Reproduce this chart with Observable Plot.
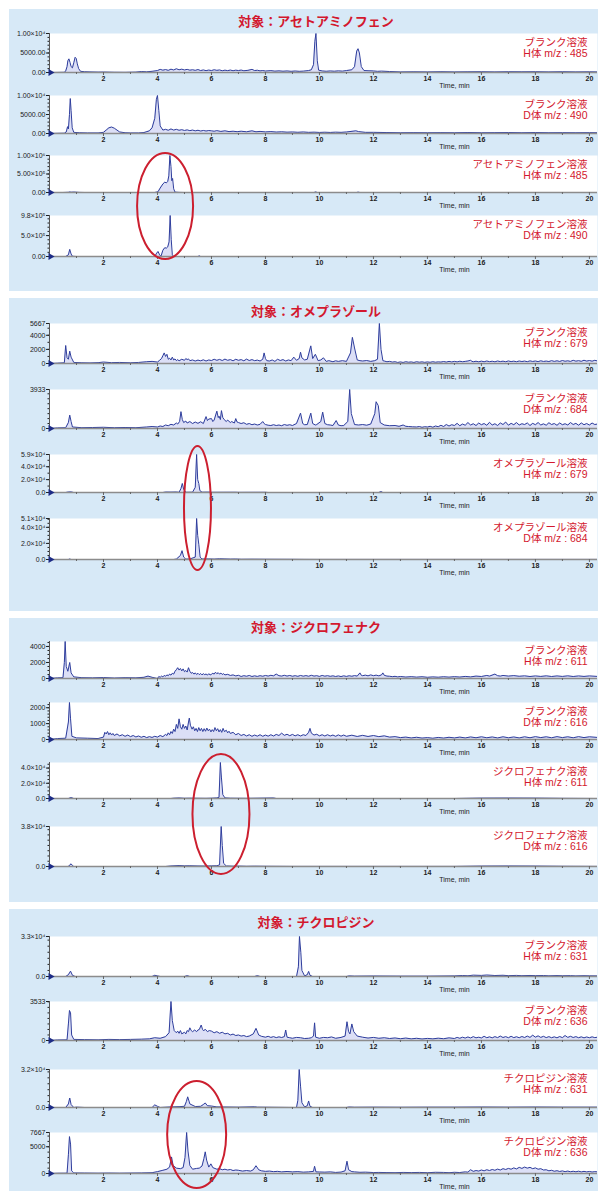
<!DOCTYPE html>
<html><head><meta charset="utf-8">
<script src="https://cdn.jsdelivr.net/npm/d3@7"></script>
<script src="https://cdn.jsdelivr.net/npm/@observablehq/plot@0.6"></script>
<style>
html,body{margin:0;padding:0;background:#fff;}
#page{position:relative;width:598px;height:1191px;overflow:hidden;font-family:"Liberation Sans","Noto Sans CJK JP",sans-serif;}
.panel{position:absolute;left:9px;width:589px;background:#d7e9f7;}
.title{position:absolute;width:300px;left:166px;text-align:center;font-family:"Noto Sans CJK JP",sans-serif;font-weight:bold;font-size:13px;color:#d3182e;line-height:14px;white-space:nowrap;}
.chart{position:absolute;left:0;}
#ov{position:absolute;left:0;top:0;pointer-events:none;}
</style></head><body><div id="page"></div>
<script>
// ---------- text ----------
const titles = ["対象：アセトアミノフェン","対象：オメプラゾール","対象：ジクロフェナク","対象：チクロピジン"];
const solutionNames = ["アセトアミノフェン溶液","オメプラゾール溶液","ジクロフェナク溶液","チクロピジン溶液"];
const blankName = "ブランク溶液";
const mzH = [485, 679, 611, 631];
const mzD = [490, 684, 616, 636];
const xMajorTicks = [2,4,6,8,10,12,14,16,18,20];
const xMinorTicks = [1,3,5,7,9,11,13,15,17,19];
const xLabel = "Time, min";
// retention time (min) marked by the red ellipse in each section
const circleTimes = [4.3, 5.5, 6.37, 5.47];

// ---------- y scales (full scale, ticks, tick labels) ----------
const yMax = [[1e4,1e4,1e6,9.8e5],[5667,3933,5.9e4,5.1e4],[4620,2330,4.73e4,3.8e4],[3.3e4,3533,3.2e4,7667]];
const yTicks = [
  [[0,5000,1e4],[0,5000,1e4],[0,5e5,1e6],[0,5e5,9.8e5]],
  [[0,2000,4000,5667],[0,3933],[0,2e4,4e4,5.9e4],[0,2e4,4e4,5.1e4]],
  [[0,2000,4000],[0,1000,2000],[0,2e4,4e4],[0,3.8e4]],
  [[0,3.3e4],[0,3533],[0,3.2e4],[0,5000,7667]]
];
const yTickLabels = [
  [["0.00","5000.00","1.00×10⁴"],["0.00","5000.00","1.00×10⁴"],["0.00","5.00×10⁵","1.00×10⁶"],["0.00","5.0×10⁵","9.8×10⁵"]],
  [["0","2000","4000","5667"],["0","3933"],["0.0","2.0×10⁴","4.0×10⁴","5.9×10⁴"],["0.0","2.0×10⁴","4.0×10⁴","5.1×10⁴"]],
  [["0","2000","4000"],["0","1000","2000"],["0.0","2.0×10⁴","4.0×10⁴"],["0.0","3.8×10⁴"]],
  [["0.0","3.3×10⁴"],["0","3533"],["0.0","3.2×10⁴"],["0","5000","7667"]]
];

// ---------- traces [time(min), intensity(cps)] ----------
const acetBlankH = [[0,0],[0.3,30],[0.55,50],[0.6,400],[0.65,1500],[0.68,3000],[0.72,3500],[0.76,2600],[0.8,1500],[0.85,1200],[0.9,2500],[0.95,3900],[0.99,3600],[1.03,2200],[1.08,1000],[1.15,300],[1.3,200],[1.5,150],[1.8,100],[2.0,120],[2.4,60],[2.8,40],[3.2,100],[3.4,250],[3.6,180],[3.8,300],[4.0,500],[4.1,800],[4.2,600],[4.3,750],[4.4,550],[4.5,850],[4.6,650],[4.7,950],[4.8,700],[4.9,850],[5.0,650],[5.1,800],[5.2,600],[5.3,700],[5.4,550],[5.5,750],[5.6,500],[5.7,650],[5.8,480],[5.9,620],[6.0,500],[6.1,700],[6.2,550],[6.3,650],[6.4,450],[6.5,600],[6.6,480],[6.7,620],[6.8,450],[6.9,600],[7.0,500],[7.1,620],[7.2,450],[7.35,550],[7.5,800],[7.6,500],[7.7,580],[7.8,420],[7.9,500],[8.0,380],[8.2,480],[8.35,350],[8.5,420],[8.65,330],[8.8,400],[8.95,300],[9.1,380],[9.25,300],[9.4,350],[9.6,500],[9.7,700],[9.78,2000],[9.83,8000],[9.87,10000],[9.92,3000],[9.97,600],[10.1,400],[10.25,320],[10.4,400],[10.55,330],[10.7,420],[10.85,350],[11.0,500],[11.2,700],[11.3,1500],[11.38,5500],[11.43,6100],[11.48,5000],[11.55,1500],[11.65,500],[11.8,450],[12.0,400],[12.15,300],[12.3,350],[12.6,250],[13.0,150],[13.5,180],[14.0,150],[14.5,200],[15.0,150],[15.5,180],[16.0,200],[16.5,150],[17.0,200],[17.5,180],[18.0,200],[18.5,150],[19.0,200],[19.5,150],[20.0,180],[20.3,150]];
const acetBlankD = [[0,0],[0.3,50],[0.55,80],[0.62,400],[0.67,1800],[0.7,1200],[0.74,5000],[0.77,9200],[0.8,6000],[0.84,1500],[0.9,300],[1.1,200],[1.4,150],[1.8,150],[2.0,300],[2.1,900],[2.2,1500],[2.3,1700],[2.4,1400],[2.5,900],[2.6,400],[2.8,200],[3.0,150],[3.3,150],[3.5,250],[3.7,700],[3.8,1500],[3.9,4000],[3.96,9000],[4.0,10000],[4.05,6000],[4.1,2000],[4.2,900],[4.3,1100],[4.4,850],[4.5,1200],[4.6,900],[4.7,1100],[4.8,850],[4.9,1000],[5.0,800],[5.1,950],[5.2,750],[5.3,900],[5.4,700],[5.5,850],[5.6,650],[5.7,800],[5.8,650],[5.9,780],[6.0,700],[6.1,600],[6.2,750],[6.35,550],[6.5,700],[6.65,500],[6.8,600],[6.95,480],[7.1,600],[7.3,450],[7.5,700],[7.65,450],[7.8,550],[8.0,420],[8.2,500],[8.4,380],[8.6,450],[8.8,350],[9.0,400],[9.2,320],[9.4,400],[9.6,300],[9.8,350],[10.0,280],[10.2,330],[10.4,280],[10.6,350],[10.8,300],[11.0,400],[11.35,700],[11.45,500],[11.7,300],[12.0,300],[12.5,250],[13,200],[13.5,220],[14,200],[14.5,220],[15,200],[15.5,250],[16,200],[16.5,220],[17,250],[17.5,200],[18,250],[18.5,200],[19,220],[19.5,200],[20,220],[20.3,200]];
const acetSolH = [[0,0],[0.5,0],[0.7,5000],[0.75,15000],[0.8,8000],[0.9,12000],[1.0,8000],[1.1,3000],[1.3,0],[3.9,0],[4.02,20000],[4.1,120000],[4.2,230000],[4.27,280000],[4.33,260000],[4.38,300000],[4.42,450000],[4.46,1000000],[4.5,700000],[4.53,320000],[4.56,380000],[4.6,100000],[4.65,10000],[4.8,3000],[5.0,0],[9.8,0],[9.86,15000],[9.92,0],[11.38,0],[11.43,10000],[11.5,0],[20.3,0]];
const acetSolD = [[0,0],[0.6,0],[0.7,40000],[0.75,170000],[0.8,60000],[0.85,5000],[1.0,0],[3.9,0],[3.97,80000],[4.02,120000],[4.08,40000],[4.13,5000],[4.2,150000],[4.27,210000],[4.33,200000],[4.38,230000],[4.43,350000],[4.47,980000],[4.51,400000],[4.55,40000],[4.6,0],[5.5,0],[5.55,15000],[5.6,0],[20.3,0]];

const omeBlankH = [[0,0],[0.3,50],[0.55,100],[0.6,2550],[0.65,800],[0.7,600],[0.75,1750],[0.8,900],[0.9,150],[1.2,100],[1.5,80],[1.8,120],[2.0,200],[2.3,120],[2.6,150],[3.0,100],[3.3,150],[3.6,250],[3.8,300],[4.0,200],[4.08,450],[4.15,700],[4.2,1100],[4.25,1500],[4.3,1000],[4.35,1300],[4.4,600],[4.45,750],[4.5,500],[4.55,900],[4.6,500],[4.65,650],[4.7,400],[4.75,550],[4.8,380],[4.9,600],[5.0,450],[5.05,700],[5.1,550],[5.15,650],[5.2,400],[5.3,500],[5.4,350],[5.5,480],[5.6,380],[5.7,520],[5.8,350],[5.9,500],[6.0,420],[6.1,600],[6.2,450],[6.3,580],[6.4,420],[6.5,620],[6.6,450],[6.7,550],[6.8,380],[6.9,600],[7.0,450],[7.1,550],[7.2,380],[7.3,620],[7.4,420],[7.5,550],[7.6,400],[7.7,480],[7.8,350],[7.9,600],[7.95,1500],[8.0,700],[8.05,400],[8.15,350],[8.25,500],[8.35,300],[8.45,600],[8.55,420],[8.65,550],[8.75,350],[8.85,500],[8.95,400],[9.05,900],[9.15,450],[9.25,700],[9.3,1600],[9.35,800],[9.45,500],[9.55,600],[9.68,2500],[9.75,700],[9.85,1300],[9.95,400],[10.05,500],[10.15,800],[10.25,300],[10.35,400],[10.5,250],[10.6,380],[10.7,300],[10.85,400],[11.0,300],[11.15,1500],[11.22,3700],[11.3,2200],[11.4,500],[11.5,400],[11.6,350],[11.75,420],[11.9,300],[12.05,400],[12.15,600],[12.22,5667],[12.28,2000],[12.35,400],[12.4,350],[12.5,250],[12.6,300],[12.7,200],[12.8,250],[12.9,150],[13.0,220],[13.1,150],[13.2,250],[13.3,180],[13.4,220],[13.5,150],[13.6,250],[13.7,180],[13.8,230],[13.9,160],[14.0,220],[14.1,170],[14.2,250],[14.3,180],[14.4,230],[14.5,200],[14.6,280],[14.7,200],[14.8,300],[14.9,220],[15.0,300],[15.1,230],[15.2,320],[15.3,250],[15.4,300],[15.5,350],[15.6,450],[15.65,300],[15.7,250],[15.8,320],[15.9,240],[16.0,330],[16.1,250],[16.2,350],[16.3,260],[16.4,320],[16.5,240],[16.6,350],[16.7,270],[16.8,330],[16.9,250],[17.0,360],[17.1,270],[17.2,330],[17.3,250],[17.4,350],[17.5,280],[17.6,340],[17.7,260],[17.8,370],[17.9,290],[18.0,350],[18.1,270],[18.2,380],[18.3,290],[18.4,340],[18.5,280],[18.6,400],[18.7,300],[18.8,380],[18.9,290],[19.0,420],[19.1,320],[19.2,380],[19.3,300],[19.4,450],[19.5,330],[19.6,400],[19.7,310],[19.8,460],[19.9,340],[20.0,420],[20.1,330],[20.2,450],[20.3,360]];
const omeBlankD = [[0,0],[0.3,60],[0.6,80],[0.7,600],[0.75,1350],[0.8,700],[0.85,150],[1.2,80],[1.6,100],[2.0,120],[2.4,80],[2.8,100],[3.2,80],[3.6,150],[3.8,200],[4.0,150],[4.1,250],[4.2,200],[4.3,350],[4.4,280],[4.5,420],[4.6,350],[4.7,550],[4.75,450],[4.82,700],[4.87,1700],[4.92,900],[4.97,600],[5.05,750],[5.1,550],[5.2,700],[5.3,500],[5.4,650],[5.5,520],[5.6,680],[5.7,500],[5.8,1200],[5.85,800],[5.9,950],[6.0,1000],[6.05,700],[6.1,850],[6.2,1750],[6.25,1100],[6.28,1250],[6.33,900],[6.37,1800],[6.42,1100],[6.47,900],[6.55,700],[6.6,850],[6.7,600],[6.75,700],[6.85,550],[6.9,1000],[6.95,650],[7.0,600],[7.1,500],[7.2,580],[7.3,420],[7.4,500],[7.5,380],[7.6,450],[7.7,350],[7.8,420],[7.9,700],[7.95,500],[8.0,400],[8.1,330],[8.2,300],[8.3,380],[8.4,300],[8.5,350],[8.6,280],[8.7,400],[8.8,320],[8.9,380],[9.0,300],[9.15,500],[9.3,1550],[9.38,500],[9.45,380],[9.55,400],[9.68,1550],[9.75,500],[9.85,350],[9.9,400],[10.05,700],[10.12,1650],[10.2,500],[10.3,380],[10.4,350],[10.5,300],[10.62,800],[10.7,350],[10.8,280],[10.9,300],[11.05,700],[11.12,3933],[11.18,1500],[11.3,400],[11.45,350],[11.6,400],[11.75,330],[11.9,450],[12.05,1500],[12.1,2700],[12.18,2300],[12.25,600],[12.4,350],[12.6,280],[12.8,300],[12.95,220],[13.1,350],[13.2,220],[13.3,200],[13.45,170],[13.6,150],[13.7,200],[13.8,120],[13.9,180],[14.0,150],[14.1,220],[14.2,130],[14.3,250],[14.4,180],[14.5,320],[14.6,200],[14.7,400],[14.8,250],[14.9,380],[15.0,300],[15.1,520],[15.2,280],[15.3,450],[15.4,330],[15.5,600],[15.6,350],[15.7,480],[15.8,300],[15.9,550],[16.0,380],[16.1,500],[16.2,320],[16.3,620],[16.4,350],[16.5,480],[16.6,300],[16.7,560],[16.8,400],[16.9,650],[17.0,330],[17.1,520],[17.2,380],[17.3,600],[17.4,350],[17.5,480],[17.6,400],[17.7,560],[17.8,300],[17.9,520],[18.0,380],[18.1,600],[18.2,350],[18.3,470],[18.4,330],[18.5,580],[18.6,400],[18.7,500],[18.8,320],[18.9,560],[19.0,380],[19.1,480],[19.2,350],[19.3,600],[19.4,400],[19.5,520],[19.6,330],[19.7,560],[19.8,380],[19.9,500],[20.0,350],[20.1,550],[20.2,400],[20.3,450]];
const omeSolH = [[0,0],[0.6,0],[0.7,800],[0.8,900],[0.9,0],[4.2,0],[4.3,700],[4.5,600],[4.7,800],[4.8,300],[4.87,6000],[4.92,14000],[4.97,5000],[5.05,400],[5.3,500],[5.4,8000],[5.45,59000],[5.49,20000],[5.53,14000],[5.57,3000],[5.65,500],[5.9,600],[6.0,300],[6.9,400],[7.0,200],[8.0,300],[8.1,0],[12.2,0],[12.28,1500],[12.35,0],[20.3,0]];
const omeSolD = [[0,0],[0.7,0],[0.75,600],[0.8,0],[4.6,0],[4.7,500],[4.85,5000],[4.91,11000],[4.97,3000],[5.05,500],[5.2,600],[5.4,3000],[5.45,51000],[5.49,30000],[5.53,19000],[5.58,3000],[5.65,600],[5.9,700],[6.1,500],[6.3,900],[6.5,700],[6.7,500],[6.9,600],[7.1,300],[7.5,400],[8.0,300],[8.5,250],[9.0,200],[9.5,150],[10,100],[20.3,100]];

const dicBlankH = [[0,0],[0.3,80],[0.5,100],[0.55,2000],[0.58,4620],[0.62,1500],[0.68,900],[0.75,2000],[0.8,700],[0.9,200],[1.2,100],[1.6,80],[2.0,120],[2.4,60],[2.8,100],[3.2,80],[3.5,150],[3.65,300],[3.8,150],[4.0,0],[4.05,250],[4.1,150],[4.15,300],[4.2,200],[4.25,380],[4.3,280],[4.35,450],[4.4,350],[4.45,550],[4.5,420],[4.55,650],[4.6,550],[4.65,900],[4.7,1100],[4.75,1350],[4.8,1050],[4.85,1250],[4.9,950],[4.95,1200],[5.0,850],[5.05,1000],[5.1,800],[5.15,1350],[5.2,900],[5.25,650],[5.3,750],[5.35,550],[5.4,700],[5.45,500],[5.5,650],[5.55,480],[5.6,620],[5.65,450],[5.7,600],[5.75,480],[5.8,560],[5.85,420],[5.9,600],[5.95,450],[6.0,520],[6.05,650],[6.1,550],[6.15,780],[6.2,600],[6.25,720],[6.3,550],[6.35,680],[6.4,500],[6.45,600],[6.5,450],[6.6,520],[6.7,380],[6.8,450],[6.9,320],[7.0,400],[7.1,250],[7.2,350],[7.3,280],[7.4,380],[7.5,250],[7.6,330],[7.7,260],[7.8,350],[7.9,280],[8.0,380],[8.1,300],[8.2,400],[8.3,330],[8.4,550],[8.5,350],[8.6,300],[8.7,400],[8.8,300],[8.9,380],[9.0,280],[9.1,350],[9.2,270],[9.3,380],[9.4,290],[9.5,360],[9.6,280],[9.7,400],[9.8,300],[9.9,350],[10.0,260],[10.1,380],[10.2,290],[10.3,350],[10.4,270],[10.5,330],[10.6,250],[10.7,320],[10.8,240],[10.9,330],[11.0,260],[11.1,340],[11.2,280],[11.3,360],[11.4,300],[11.5,700],[11.55,400],[11.6,350],[11.7,420],[11.8,330],[11.9,450],[12.0,350],[12.1,420],[12.2,330],[12.3,450],[12.35,700],[12.4,400],[12.5,300],[12.6,280],[12.7,230],[12.8,270],[12.9,200],[13.0,250],[13.2,180],[13.4,230],[13.6,170],[13.8,220],[14.0,150],[14.2,200],[14.4,160],[14.6,220],[14.8,170],[15.0,230],[15.2,180],[15.4,260],[15.6,200],[15.8,300],[16.0,250],[16.2,380],[16.3,300],[16.5,550],[16.6,350],[16.7,300],[16.8,380],[17.0,300],[17.2,360],[17.4,280],[17.6,330],[17.8,250],[18.0,320],[18.2,260],[18.4,330],[18.6,250],[18.8,320],[19.0,260],[19.2,330],[19.4,250],[19.6,320],[19.8,260],[20.0,320],[20.3,260]];
const dicBlankD = [[0,0],[0.3,60],[0.6,80],[0.7,1100],[0.74,2330],[0.78,1300],[0.83,200],[1.0,100],[1.4,80],[1.8,60],[2.0,150],[2.05,450],[2.1,350],[2.15,500],[2.2,300],[2.25,420],[2.3,280],[2.35,380],[2.4,250],[2.5,350],[2.6,230],[2.7,300],[2.8,200],[2.9,280],[3.0,180],[3.1,250],[3.2,160],[3.3,220],[3.4,140],[3.5,200],[3.6,120],[3.7,180],[3.8,130],[3.9,200],[4.0,150],[4.1,250],[4.2,180],[4.3,320],[4.35,250],[4.4,420],[4.45,300],[4.5,500],[4.55,380],[4.6,650],[4.65,500],[4.7,950],[4.75,700],[4.8,1300],[4.85,800],[4.9,650],[4.95,950],[5.0,700],[5.05,850],[5.1,600],[5.15,1100],[5.18,1350],[5.22,900],[5.28,650],[5.33,800],[5.38,550],[5.43,700],[5.48,500],[5.53,750],[5.58,550],[5.63,700],[5.68,500],[5.73,680],[5.78,520],[5.83,720],[5.88,550],[5.93,650],[5.98,480],[6.03,620],[6.08,500],[6.13,750],[6.18,550],[6.23,680],[6.28,480],[6.33,620],[6.38,450],[6.43,700],[6.48,500],[6.55,580],[6.6,420],[6.65,520],[6.7,380],[6.8,450],[6.9,300],[7.0,380],[7.1,250],[7.2,320],[7.3,220],[7.4,300],[7.5,200],[7.6,280],[7.7,210],[7.8,300],[7.9,200],[8.0,280],[8.1,210],[8.2,300],[8.3,220],[8.4,320],[8.5,250],[8.6,400],[8.7,260],[8.8,330],[8.9,240],[9.0,320],[9.1,230],[9.2,300],[9.3,220],[9.4,300],[9.5,250],[9.6,450],[9.65,700],[9.7,400],[9.8,280],[9.9,330],[10.0,230],[10.1,300],[10.2,220],[10.3,300],[10.4,220],[10.5,280],[10.6,200],[10.7,290],[10.8,210],[10.9,280],[11.0,200],[11.2,270],[11.4,190],[11.6,260],[11.8,190],[12.0,250],[12.2,180],[12.4,230],[12.6,150],[12.8,180],[13.0,120],[13.2,150],[13.4,100],[13.6,140],[13.8,90],[14.0,120],[14.2,80],[14.4,130],[14.6,90],[14.8,140],[15.0,100],[15.2,150],[15.4,100],[15.6,160],[15.8,110],[16.0,170],[16.2,110],[16.4,160],[16.6,100],[16.8,170],[17.0,110],[17.2,160],[17.4,100],[17.6,170],[17.8,110],[18.0,180],[18.2,120],[18.4,170],[18.6,110],[18.8,180],[19.0,120],[19.2,170],[19.4,110],[19.6,180],[19.8,120],[20.0,170],[20.3,130]];
const dicSolH = [[0,0],[0.7,0],[0.8,1200],[0.9,0],[4.5,0],[4.6,400],[4.8,700],[5.0,300],[5.2,400],[5.5,300],[5.8,200],[6.0,400],[6.2,800],[6.28,1500],[6.33,47300],[6.37,27000],[6.42,5000],[6.5,800],[6.7,400],[7.0,300],[7.3,200],[8.3,700],[8.4,0],[15.0,0],[16.0,500],[17.0,600],[18.0,500],[19.0,200],[20.3,0]];
const dicSolD = [[0,0],[0.7,0],[0.75,1500],[0.8,2500],[0.85,1000],[0.9,0],[4.3,0],[4.5,500],[4.8,900],[5.0,600],[5.2,700],[5.5,500],[5.8,400],[6.0,600],[6.2,700],[6.3,1500],[6.36,38000],[6.4,20000],[6.45,3000],[6.55,500],[6.8,300],[7.0,400],[7.3,200],[7.6,300],[8.0,200],[9.0,100],[15.0,100],[16.0,400],[17.0,500],[18.0,400],[19.0,200],[20.3,100]];

const ticBlankH = [[0,0],[0.6,0],[0.7,1500],[0.78,4400],[0.85,1000],[0.95,0],[3.8,0],[3.9,1000],[4.0,500],[4.1,0],[5.0,0],[5.1,700],[5.2,0],[7.6,0],[7.7,700],[7.8,0],[9.15,0],[9.22,8000],[9.26,33000],[9.31,20000],[9.35,5000],[9.45,500],[9.55,1500],[9.6,4200],[9.65,1000],[9.75,0],[11.0,0],[11.1,500],[11.3,300],[12.0,400],[13.0,300],[14.0,300],[15.0,500],[15.3,800],[15.5,600],[15.7,1100],[16.0,900],[16.2,1200],[16.5,800],[16.8,1000],[17.0,700],[17.3,900],[17.5,650],[17.8,850],[18.0,700],[18.3,800],[18.5,550],[18.8,750],[19.0,600],[19.3,700],[19.5,500],[19.8,650],[20.0,550],[20.3,500]];
const ticBlankD = [[0,0],[0.3,50],[0.65,60],[0.7,1500],[0.74,2720],[0.78,2500],[0.82,500],[0.9,100],[1.3,80],[1.8,60],[2.2,100],[2.6,80],[3.0,100],[3.4,120],[3.7,150],[3.9,250],[4.1,200],[4.3,350],[4.43,700],[4.5,3533],[4.55,1800],[4.62,900],[4.7,700],[4.75,850],[4.8,650],[4.85,900],[4.9,600],[5.0,750],[5.05,600],[5.1,900],[5.15,800],[5.2,1150],[5.25,900],[5.3,800],[5.38,950],[5.45,800],[5.5,950],[5.55,1000],[5.62,1400],[5.67,1000],[5.7,900],[5.78,1000],[5.85,800],[5.92,900],[6.0,850],[6.1,700],[6.2,800],[6.3,650],[6.4,750],[6.5,600],[6.6,650],[6.7,500],[6.8,580],[6.9,450],[7.0,500],[7.1,400],[7.2,450],[7.3,350],[7.4,400],[7.55,600],[7.65,1100],[7.75,500],[7.85,380],[8.0,300],[8.1,380],[8.2,280],[8.3,350],[8.4,260],[8.5,330],[8.6,270],[8.7,350],[8.75,950],[8.8,300],[8.9,250],[9.0,200],[9.15,280],[9.3,250],[9.45,180],[9.6,200],[9.7,250],[9.78,400],[9.82,1600],[9.86,300],[10.0,200],[10.15,280],[10.3,250],[10.45,320],[10.6,200],[10.8,280],[10.95,400],[11.02,1700],[11.08,800],[11.13,600],[11.2,1500],[11.27,800],[11.4,400],[11.6,300],[11.8,220],[12.0,280],[12.2,200],[12.4,250],[12.6,180],[12.8,230],[13.0,160],[13.2,220],[13.4,150],[13.6,200],[13.8,140],[14.0,190],[14.2,150],[14.4,210],[14.6,160],[14.8,240],[15.0,180],[15.1,280],[15.2,200],[15.3,300],[15.4,220],[15.5,320],[15.6,230],[15.7,350],[15.8,240],[15.9,300],[16.0,230],[16.1,380],[16.2,250],[16.3,330],[16.4,240],[16.5,350],[16.6,260],[16.7,400],[16.8,270],[16.9,350],[17.0,250],[17.1,380],[17.2,260],[17.3,340],[17.4,250],[17.5,360],[17.6,270],[17.7,400],[17.8,280],[17.9,480],[18.0,300],[18.1,420],[18.2,280],[18.3,380],[18.4,260],[18.5,350],[18.6,250],[18.7,330],[18.8,240],[18.9,360],[19.0,260],[19.1,450],[19.2,280],[19.3,380],[19.4,270],[19.5,350],[19.6,250],[19.7,330],[19.8,240],[19.9,320],[20.0,250],[20.1,330],[20.2,260],[20.3,300]];
const ticSolH = [[0,0],[0.6,0],[0.7,3000],[0.75,8000],[0.8,2500],[0.9,0],[1.0,300],[1.3,0],[3.8,0],[3.9,2200],[4.0,1000],[4.1,0],[4.5,500],[4.8,700],[5.0,1000],[5.07,5000],[5.12,9000],[5.2,3000],[5.4,800],[5.6,1000],[5.7,2500],[5.77,3800],[5.85,1500],[6.0,1200],[6.2,500],[7.0,300],[7.6,600],[7.7,300],[9.15,0],[9.2,6000],[9.25,32000],[9.3,18000],[9.35,4000],[9.45,500],[9.55,1500],[9.6,5500],[9.65,1000],[9.75,0],[11.0,0],[11.1,400],[11.3,200],[12.0,300],[13.0,200],[14.0,300],[15.0,300],[16.0,400],[17.0,300],[18.0,400],[19.0,300],[20.3,300]];
const ticSolD = [[0,0],[0.3,50],[0.65,60],[0.7,3500],[0.74,6900],[0.78,5500],[0.82,500],[0.9,100],[1.3,80],[1.8,60],[2.2,80],[2.6,60],[3.0,80],[3.4,100],[3.8,150],[4.0,350],[4.2,600],[4.35,800],[4.45,1200],[4.52,3100],[4.58,1500],[4.7,1000],[4.85,900],[4.95,1100],[5.02,3000],[5.08,7667],[5.13,4200],[5.2,1500],[5.3,800],[5.45,950],[5.55,1000],[5.65,1400],[5.72,2800],[5.77,4050],[5.82,2500],[5.9,1200],[5.98,1800],[6.05,1100],[6.2,800],[6.3,900],[6.4,700],[6.5,800],[6.6,650],[6.7,750],[6.8,550],[6.9,650],[7.0,600],[7.15,450],[7.3,550],[7.45,450],[7.55,700],[7.65,1450],[7.75,700],[7.85,500],[8.0,400],[8.15,450],[8.3,350],[8.45,400],[8.6,300],[8.8,380],[9.0,300],[9.2,350],[9.4,250],[9.6,300],[9.78,400],[9.82,1350],[9.87,300],[10.0,280],[10.2,250],[10.4,300],[10.6,200],[10.8,260],[10.95,500],[11.02,2300],[11.08,700],[11.2,350],[11.3,300],[11.5,220],[11.7,250],[12.0,180],[12.2,200],[12.5,170],[12.8,150],[13.1,200],[13.4,170],[13.7,200],[14.0,150],[14.3,220],[14.6,200],[14.8,150],[15.0,220],[15.2,180],[15.4,300],[15.5,250],[15.6,700],[15.7,400],[15.8,550],[15.9,450],[16.0,650],[16.1,500],[16.2,700],[16.3,550],[16.4,750],[16.5,600],[16.6,820],[16.7,650],[16.8,900],[16.9,750],[17.0,950],[17.1,800],[17.2,1050],[17.3,850],[17.4,1150],[17.5,950],[17.6,1200],[17.7,1000],[17.8,1150],[17.9,900],[18.0,1050],[18.1,800],[18.2,900],[18.3,650],[18.4,700],[18.5,500],[18.6,600],[18.7,420],[18.8,520],[18.9,380],[19.0,480],[19.1,350],[19.2,450],[19.3,330],[19.4,420],[19.5,320],[19.6,430],[19.7,300],[19.8,400],[19.9,300],[20.0,380],[20.1,280],[20.2,350],[20.3,300]];

const traces = [
  [acetBlankH, acetBlankD, acetSolH, acetSolD],
  [omeBlankH, omeBlankD, omeSolH, omeSolD],
  [dicBlankH, dicBlankD, dicSolH, dicSolD],
  [ticBlankH, ticBlankD, ticSolH, ticSolD]
];

// ---------- layout (page pixels) ----------
const layout = {
  panels: [[9,291],[298,611],[618,902],[909,1191]],
  titleY: [20.5,310.5,627,922],
  plotTop: [[33,95,155,215],[323,389,454,518],[641,702,762,826],[936,1001,1069,1132]],
  plotBottom: [[72,133,192,256],[363,428,492,559],[678,739,798,866],[976,1040,1107,1173]],
  ellipseY: [[153,259],[446,570],[754,874],[1081,1188]],
  ellipseRx: [28,13.5,28.5,29.5]
};

const page = document.getElementById("page");
const MT = 4, MB = 26;
const red = "#d3182e";
const ellipses = [];

for (let s = 0; s < 4; s++) {
  const panel = document.createElement("div");
  panel.className = "panel";
  panel.style.top = layout.panels[s][0] + "px";
  panel.style.height = (layout.panels[s][1] - layout.panels[s][0]) + "px";
  page.appendChild(panel);

  const title = document.createElement("div");
  title.className = "title";
  title.textContent = titles[s];
  title.style.top = (layout.titleY[s] - 7) + "px";
  page.appendChild(title);

  for (let p = 0; p < 4; p++) {
    const data = traces[s][p].map(([t, v]) => ({t, v}));
    const h = layout.plotBottom[s][p] - layout.plotTop[s][p];
    const fmt = new Map(yTicks[s][p].map((d, i) => [d, yTickLabels[s][p][i]]));
    const isH = p % 2 === 0;
    const label = (p < 2 ? blankName : solutionNames[s]) + "\n" +
      (isH ? "H" : "D") + "体 m/z : " + (isH ? mzH[s] : mzD[s]);
    const chart = Plot.plot({
      width: 598, height: h + MT + MB,
      marginTop: MT, marginBottom: MB, marginLeft: 49, marginRight: 1,
      style: {background: "transparent", overflow: "visible", fontFamily: "Liberation Sans, Noto Sans CJK JP, sans-serif", fontSize: "7px", color: "#222"},
      x: {domain: [0, 20.3], axis: null},
      y: {domain: [0, yMax[s][p]], axis: null},
      marks: [
        Plot.frame({fill: "white"}),
        Plot.areaY(data, {x: "t", y: "v", fill: "#cdd2f2", fillOpacity: 0.7, clip: true}),
        Plot.lineY(data, {x: "t", y: "v", stroke: "#2e3d9c", strokeWidth: 1, clip: true}),
        Plot.ruleY([0], {stroke: "#8c8c8c", strokeWidth: 1.5}),
        Plot.ruleX([0], {stroke: "#555", strokeWidth: 1}),
        Plot.axisX({ticks: xMajorTicks, tickSize: 3, tickPadding: 1, tickFormat: d => String(d), fontWeight: "bold", label: null, stroke: "#666"}),
        Plot.axisX({ticks: xMinorTicks, tickSize: 2, tickFormat: () => "", label: null, stroke: "#666"}),
        Plot.axisY({ticks: yTicks[s][p], tickSize: 3, tickPadding: 1, tickFormat: d => fmt.get(d), label: null}),
        Plot.axisY({ticks: 8, tickSize: 1.5, tickFormat: () => "", label: null}),
        Plot.text([xLabel], {frameAnchor: "bottom", dx: 131, dy: 15, fontSize: 7, textAnchor: "middle"}),
        Plot.text([label], {frameAnchor: "top-right", textAnchor: "end", lineAnchor: "top", dx: -10, dy: 5, lineHeight: 1.05, fontSize: 10.5, fill: red}),
        Plot.dot([0], {frameAnchor: "bottom-left", symbol: "triangle", rotate: 90, r: 2.6, fill: "#1d2c86", stroke: null, dx: 1})
      ]
    });
    chart.classList.add("chart");
    chart.style.position = "absolute";
    chart.style.left = "0px";
    chart.style.top = (layout.plotTop[s][p] - MT) + "px";
    page.appendChild(chart);
    if (p === 2) {
      const x = chart.scale("x");
      ellipses.push({cx: x.apply(circleTimes[s]), y0: layout.ellipseY[s][0], y1: layout.ellipseY[s][1], rx: layout.ellipseRx[s]});
    }
  }
}

const ov = d3.select(page).append("svg").attr("id", "ov").attr("width", 598).attr("height", 1191);
ov.selectAll("ellipse").data(ellipses).join("ellipse")
  .attr("cx", d => d.cx).attr("cy", d => (d.y0 + d.y1) / 2)
  .attr("rx", d => d.rx).attr("ry", d => (d.y1 - d.y0) / 2)
  .attr("fill", "none").attr("stroke", "#cc1f2f").attr("stroke-width", 2);
</script>
</body></html>
